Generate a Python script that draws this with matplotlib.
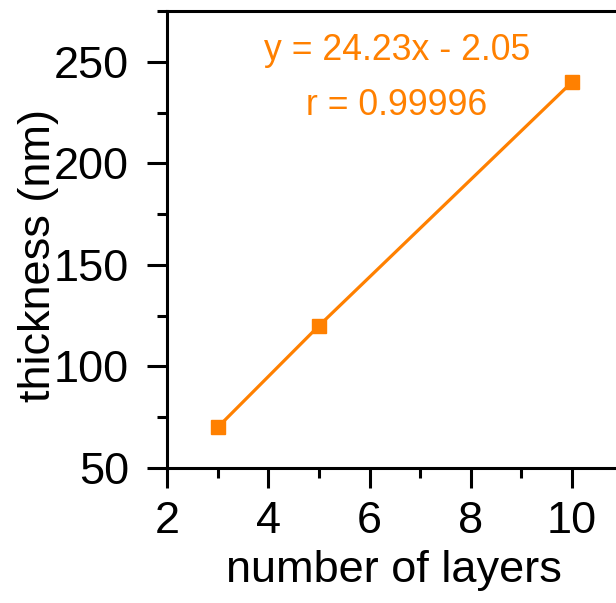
import matplotlib
matplotlib.use("Agg")
import matplotlib.pyplot as plt
from matplotlib.ticker import MultipleLocator

layers = [3, 5, 10]
thickness = [70, 120, 240]
fit_text = "y = 24.23x - 2.05"
r_text = "r = 0.99996"
x_label = "number of layers"
y_label = "thickness (nm)"

plt.rcParams['font.family'] = ['Liberation Sans', 'DejaVu Sans']
orange = '#FF8000'

fig = plt.figure(figsize=(6.16, 6.03), dpi=100)
ax = fig.add_axes([167/616, 135/603, 9*50.625/616, 457/603])
ax.plot(layers, thickness, color=orange, lw=2.3, marker='s', ms=9.5, mec=orange, mfc=orange)
ax.set_xlim(2, 11)
ax.set_ylim(50, 275)
ax.xaxis.set_major_locator(MultipleLocator(2))
ax.xaxis.set_minor_locator(MultipleLocator(1))
ax.yaxis.set_major_locator(MultipleLocator(50))
ax.yaxis.set_minor_locator(MultipleLocator(25))
for s in ax.spines.values():
    s.set_linewidth(2.2)
ax.tick_params(which='major', direction='out', length=14.5, width=2.2, labelsize=32.5)
ax.tick_params(which='minor', direction='out', length=7.5, width=2.2)
ax.tick_params(axis='x', which='major', pad=9)
ax.tick_params(axis='y', which='major', pad=13)
ax.set_xlabel(x_label, fontsize=32.5)
ax.set_ylabel(y_label, fontsize=32.5)
ax.xaxis.set_label_coords(0.497, -0.18)
ax.yaxis.set_label_coords(-0.236, 0.464)
ax.text(6.54, 251, fit_text, color=orange, fontsize=25.7, ha='center', va='baseline')
ax.text(6.54, 224, r_text, color=orange, fontsize=25.7, ha='center', va='baseline')
fig.savefig("out.png", dpi=100)
